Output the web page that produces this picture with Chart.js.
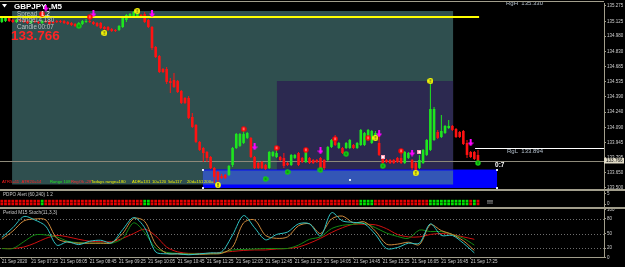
<!DOCTYPE html>
<html><head><meta charset="utf-8">
<script src="https://cdn.jsdelivr.net/npm/chart.js@4.4.1/dist/chart.umd.min.js"></script>
<style>
html,body{margin:0;padding:0;background:#000;width:625px;height:267px;overflow:hidden}
canvas{position:absolute;left:0;display:block}
#c1{top:0}#c2{top:190px}#c3{top:207px}
</style></head><body>
<canvas id="c1" width="625" height="190"></canvas>
<canvas id="c2" width="625" height="17"></canvas>
<canvas id="c3" width="625" height="60"></canvas>
<script>
// ---------- DATA (GBPJPY M5, 21 Sep 2020, bars from 06:45) ----------
const opens = [135.119,135.128,135.158,135.138,135.119,135.138,135.128,135.128,135.109,135.128,
135.119,135.109,135.128,135.128,135.119,135.128,135.128,135.128,135.119,135.109,
135.099,135.070,135.099,135.119,135.128,135.119,135.109,135.109,135.070,135.070,
135.050,135.041,135.041,135.070,135.138,135.167,135.177,135.167,135.187,135.197,
135.138,135.070,134.875,134.787,134.660,134.660,134.543,134.553,134.543,134.446,
134.378,134.378,134.192,134.114,133.949,133.890,133.851,133.802,133.695,133.656,
133.617,133.627,133.627,133.724,133.890,133.910,133.939,133.988,133.988,133.802,
133.744,133.754,133.724,133.695,133.812,133.802,133.802,133.793,133.744,133.724,
133.793,133.841,133.793,133.754,133.793,133.773,133.773,133.793,133.773,133.773,
133.900,133.997,133.890,133.890,133.890,133.890,133.919,133.890,133.919,133.919,
133.968,133.939,133.968,133.939,133.793,133.773,133.773,133.773,133.793,133.793,
133.744,133.793,133.773,133.744,133.695,133.744,133.822,133.871,133.968,134.046,
133.997,134.036,134.085,134.105,134.075,134.046,134.056,133.939,133.851,133.851,133.822];
const highs = [135.167,135.167,135.167,135.148,135.148,135.148,135.138,135.138,135.138,135.138,
135.128,135.138,135.138,135.138,135.128,135.138,135.138,135.138,135.128,135.119,
135.109,135.119,135.138,135.148,135.167,135.128,135.119,135.119,135.080,135.080,
135.060,135.050,135.089,135.177,135.197,135.206,135.226,135.226,135.197,135.216,
135.148,135.080,134.885,134.797,134.670,134.680,134.573,134.621,134.553,134.456,
134.387,134.397,134.231,134.124,133.958,133.900,133.861,133.812,133.705,133.666,
133.637,133.637,133.724,133.900,134.036,134.036,134.075,134.046,133.997,133.812,
133.754,133.763,133.734,133.861,133.861,133.871,133.812,133.841,133.754,133.832,
133.832,133.851,133.802,133.880,133.802,133.783,133.783,133.802,133.783,133.910,
133.978,134.017,133.949,133.900,133.949,133.978,133.929,133.949,134.075,134.046,
134.075,134.066,134.056,134.027,133.812,133.783,133.783,133.783,133.802,133.841,
133.861,133.851,133.783,133.754,133.822,133.880,133.978,134.524,134.290,134.066,
134.212,134.114,134.163,134.114,134.085,134.056,134.066,133.968,133.861,133.861,133.871];
const lows = [135.109,135.119,135.119,135.109,135.109,135.119,135.109,135.099,135.099,135.109,
135.099,135.099,135.109,135.089,135.099,135.109,135.109,135.099,135.089,135.080,
135.070,135.060,135.089,135.109,135.109,135.089,135.070,135.050,135.041,135.031,
135.021,135.021,135.031,135.060,135.119,135.158,135.167,135.158,135.158,135.109,
135.060,134.846,134.768,134.621,134.621,134.514,134.426,134.475,134.426,134.319,
134.319,134.173,134.085,133.939,133.861,133.754,133.754,133.685,133.549,133.559,
133.588,133.588,133.617,133.705,133.880,133.900,133.929,133.978,133.793,133.685,
133.685,133.685,133.676,133.685,133.802,133.793,133.763,133.695,133.715,133.715,
133.783,133.715,133.744,133.744,133.734,133.734,133.744,133.656,133.676,133.763,
133.890,133.910,133.880,133.832,133.880,133.880,133.880,133.880,133.910,133.910,
133.958,133.929,133.958,133.812,133.734,133.744,133.734,133.734,133.744,133.734,
133.734,133.783,133.676,133.656,133.685,133.734,133.812,133.861,133.958,133.978,
133.988,134.027,134.075,134.056,133.988,133.988,133.919,133.793,133.793,133.773,133.744];
const closes = [135.158,135.158,135.128,135.119,135.138,135.128,135.119,135.109,135.128,135.119,
135.109,135.128,135.119,135.099,135.109,135.119,135.119,135.109,135.099,135.089,
135.080,135.109,135.128,135.128,135.119,135.099,135.080,135.060,135.050,135.041,
135.031,135.031,135.080,135.158,135.187,135.197,135.216,135.197,135.167,135.119,
135.070,134.865,134.777,134.631,134.631,134.534,134.524,134.485,134.436,134.329,
134.329,134.183,134.095,133.949,133.871,133.841,133.793,133.695,133.607,133.578,
133.598,133.598,133.715,133.890,134.027,134.027,134.027,134.036,133.802,133.695,
133.695,133.695,133.685,133.851,133.851,133.841,133.773,133.715,133.724,133.822,
133.822,133.724,133.754,133.851,133.744,133.744,133.754,133.695,133.695,133.900,
133.968,133.919,133.939,133.841,133.939,133.968,133.890,133.939,134.066,134.036,
134.066,134.056,134.036,133.822,133.744,133.754,133.744,133.744,133.754,133.744,
133.851,133.841,133.695,133.676,133.773,133.871,133.968,134.270,134.270,133.988,
134.056,134.105,134.105,134.066,133.997,133.997,133.929,133.822,133.802,133.783,133.766];

// time-axis labels, one every 8 bars (bar 0 = 06:45)
const timeLabels = ["21 Sep 2020","21 Sep 07:25","21 Sep 08:05","21 Sep 08:45","21 Sep 09:25",
"21 Sep 10:05","21 Sep 10:45","21 Sep 11:25","21 Sep 12:05","21 Sep 12:45","21 Sep 13:25",
"21 Sep 14:05","21 Sep 14:45","21 Sep 15:25","21 Sep 16:05","21 Sep 16:45","21 Sep 17:25"];
const priceTicks = [135.275,135.125,134.980,134.830,134.685,134.535,134.390,134.240,134.090,133.945,133.795,133.650,133.500];

// signal markers: [bar, price]
const signalYellow = [[28,135.011],[37,135.226],[59,133.529],[102,133.988],[113,133.646],[117,134.543]];
const signalRed = [[11,135.197],[24,135.167],[66,134.075],[75,133.890],[83,133.871],[91,133.978],[100,133.988],[109,133.861]];
const signalGreen = [[21,135.080],[72,133.588],[78,133.656],[87,133.676],[94,133.832],[104,133.715],[130,133.744]];
const signalArrow = [[12,135.255],[25,135.197],[41,135.197],[69,133.900],[87,133.861],[103,134.027],[112,133.841],[128,133.939]];
const signalPink = [[104,133.802],[114,133.851]];

// chart objects (bar index / price)
const zoneTeal = {from:2.8, to:123.2, top:135.226, bottom:133.534};
const zonePurple = {from:75.1, to:123.2, top:134.543, bottom:133.534};
const zoneBlue = {from:54.9, to:135.2, top:133.680, bottom:133.500};
const levelYellow = {price:135.167, to:130.3};
const rangeHigh = 135.330, rangeLow = 133.894, rangeLowFrom = 129.2;

// PDPO alert (1 = green)
const pdpoSignal = [0,0,0,0,0,0,0,0,0,0, 0,1,0,0,0,0,0,0,0,0, 0,0,0,0,0,0,0,0,0,0, 0,0,0,0,0,0,0,0,0,1,
1,0,0,0,0,0,0,0,0,0, 0,0,0,0,0,0,0,0,0,0, 0,0,0,0,0,0,0,0,0,0, 0,0,0,0,0,0,0,0,0,0,
0,0,0,0,0,0,0,0,0,0, 0,0,0,0,0,0,0,0,1,1, 1,1,0,0,0,0,0,0,0,0, 0,0,0,0,0,0,0,1,1,1,
1,1,1,1,1,1,1,1,0,1, 0];

// M15 stochastic, sampled every 3 M5 bars
const stochBars = [0,3,6,9,12,15,18,21,24,27,30,33,36,39,42,45,48,51,54,57,60,63,66,69,72,75,78,81,84,87,90,93,96,99,102,105,108,111,114,117,120,123,126,129];
const stochCyan = [42,62,85,78,65,26,33,27,34,36,31,58,83,62,12,8,8,6,8,10,12,47,87,62,37,48,53,70,70,45,93,76,73,70,48,19,21,30,30,70,46,46,30,10];
const stochOrange = [38,55,76,80,78,40,32,30,30,30,31,50,81,75,28,9,8,7,7,8,9,22,72,78,46,40,43,66,70,50,80,86,72,74,55,28,28,32,27,68,56,48,35,15];
const stochGreen = [19,19,33,47,47,43,34,31,30,30,30,40,72,52,20,11,9,8,8,8,10,16,17,18,19,19,19,26,38,43,60,67,69,71,62,51,44,40,57,54,54,48,40,26];
const stochRed = [19,19,22,30,40,46,43,38,34,33,33,40,50,59,45,22,12,9,9,9,11,13,15,16,16,18,19,22,30,40,52,62,69,69,68,60,48,43,43,48,50,48,43,38];
const stochLevels = [80,50,20];

// ---------- RENDERING ----------
const FONT = '"Liberation Sans", Arial, sans-serif';
const X_MIN = -0.5, X_MAX = 164.4;
const AXIS_W = 21;
const LINE_C = '#a29e8c';
const TXT_C = '#cfcfcf';
const UP = '#1ee61e', DN = '#ff1212';
const bars = opens.map((_, i) => i);
const candleCol = bars.map(i => closes[i] >= opens[i] ? UP : DN);

function txt(ctx, s, x, y, col, size, bold, align) {
  ctx.font = (bold ? 'bold ' : '') + size + 'px ' + FONT;
  ctx.fillStyle = col; ctx.textAlign = align || 'left'; ctx.textBaseline = 'middle';
  ctx.fillText(s, x, y);
}
function mk(w, h, draw) { const c = document.createElement('canvas'); c.width = w; c.height = h; draw(c.getContext('2d')); return c; }
const imgYellow = mk(6, 6, g => { g.fillStyle = '#ffff00'; g.beginPath(); g.arc(3, 3, 2.9, 0, 7); g.fill(); g.fillStyle = '#333'; g.fillRect(2.5, 1, 1, 2.6); g.fillRect(2.5, 4.2, 1, 0.9); });
const imgRed = mk(6, 6, g => { g.fillStyle = '#ff0000'; g.beginPath(); g.arc(3, 3, 2.7, 0, 7); g.fill(); g.fillStyle = '#ffc8c8'; g.fillRect(2.5, 1.5, 1, 2.8); });
const imgGreen = mk(6, 6, g => { g.fillStyle = '#12d012'; g.beginPath(); g.arc(3, 3, 2.7, 0, 7); g.fill(); g.fillStyle = '#0a6a0a'; g.fillRect(2.5, 1.6, 1, 2.6); });
const imgArrow = mk(6, 7, g => { g.fillStyle = '#ff00ff'; g.fillRect(2, 0, 2, 3); g.beginPath(); g.moveTo(0, 3); g.lineTo(6, 3); g.lineTo(3, 7); g.closePath(); g.fill(); });
const imgPink = mk(4, 4, g => { g.fillStyle = '#ff9fb8'; g.fillRect(0, 0, 4, 4); g.fillStyle = '#ffffff'; g.fillRect(1, 1, 2, 2); });

const yAfterFit = s => { s.width = AXIS_W; s.paddingTop = 0; s.paddingBottom = 0; };
const baseOpts = { responsive: false, animation: false, events: [],
  plugins: { legend: { display: false }, tooltip: { enabled: false } } };
const hiddenX = { type: 'linear', min: X_MIN, max: X_MAX, display: false, offset: false };
const rightY = (min, max, ticks) => ({
  position: 'right', min, max, stacked: false, beginAtZero: false,
  afterFit: yAfterFit,
  afterBuildTicks: s => { s.ticks = ticks.map(v => ({ value: v })); },
  ticks: { font: { size: 4.5, family: FONT }, color: TXT_C, padding: 1, autoSkip: false,
           callback: v => (ticks === priceTicks ? v.toFixed(3) : String(v)) },
  grid: { drawOnChartArea: false, drawTicks: true, tickLength: 2, color: LINE_C },
  border: { display: true, color: LINE_C }
});
const markerSet = (arr, img) => ({ type: 'line', data: arr.map(([i, p]) => ({ x: i, y: p })), showLine: false,
  pointStyle: img, pointRadius: 3, order: 1, clip: false });

// ----- main price chart -----
const mainPlugin = {
  id: 'mainOverlay',
  beforeDatasetsDraw(chart) {
    const { ctx, chartArea: a, scales: { x, y } } = chart;
    ctx.save();
    ctx.beginPath(); ctx.rect(a.left, a.top, a.right - a.left, a.bottom - a.top); ctx.clip();
    const R = (z, col, top, bottom) => {
      const X0 = x.getPixelForValue(z.from), X1 = x.getPixelForValue(z.to);
      const Y0 = y.getPixelForValue(top ?? z.top), Y1 = y.getPixelForValue(bottom ?? z.bottom);
      ctx.fillStyle = col; ctx.fillRect(X0, Y0, X1 - X0, Y1 - Y0);
    };
    R(zoneTeal, '#2f4f4f');
    R(zonePurple, '#2c2950');
    R(zoneBlue, '#0000ff');
    R({ from: zoneBlue.from, to: zoneTeal.to }, '#3356b6', 133.671, zoneTeal.bottom);
    // bid line
    const yb = Math.round(y.getPixelForValue(closes[closes.length - 1])) + 0.5;
    ctx.strokeStyle = '#8e8a7a'; ctx.lineWidth = 1;
    ctx.beginPath(); ctx.moveTo(a.left, yb); ctx.lineTo(a.right, yb); ctx.stroke();
    // range-low line
    const yl = Math.round(y.getPixelForValue(rangeLow)) + 0.5;
    ctx.strokeStyle = '#ffffff';
    ctx.beginPath(); ctx.moveTo(x.getPixelForValue(rangeLowFrom), yl); ctx.lineTo(a.right, yl); ctx.stroke();
    ctx.restore();
  },
  afterDatasetDraw(chart, args) {
    if (args.index !== 1) return;
    const { ctx, chartArea: a, scales: { x, y } } = chart;
    const yy = y.getPixelForValue(levelYellow.price);
    ctx.save(); ctx.fillStyle = '#ffff00';
    ctx.fillRect(a.left, Math.round(yy) - 1, x.getPixelForValue(levelYellow.to) - a.left, 2);
    ctx.restore();
  },
  afterDatasetsDraw(chart) {
    const { ctx, scales: { x, y } } = chart;
    ctx.save();
    // header
    ctx.fillStyle = '#ffffff'; ctx.beginPath(); ctx.moveTo(2, 4); ctx.lineTo(7, 4); ctx.lineTo(4.5, 7.5); ctx.closePath(); ctx.fill();
    txt(ctx, 'GBPJPY ,M5', 14, 6.5, '#ffffff', 8, true);
    txt(ctx, 'Spread', 17, 14, '#b9c2c2', 6.3);
    txt(ctx, '1.2', 41, 14, '#ffffff', 6.3);
    txt(ctx, 'Range', 17, 20.5, '#b9c2c2', 6.3);
    txt(ctx, '14.180', 35, 20.5, '#b9c2c2', 6.3);
    txt(ctx, 'Candle', 17, 27, '#b9c2c2', 6.3);
    txt(ctx, '00:07', 38, 27, '#b9c2c2', 6.3);
    txt(ctx, '133.766', 11, 36.5, '#ff2424', 13.5, true);
    // range labels
    txt(ctx, 'RgH  ' + rangeHigh.toFixed(3), 506, 3.8, '#b4c0cc', 6);
    txt(ctx, 'RgL  ' + rangeLow.toFixed(3), 507, 151.8, '#b4c0cc', 6);
    // stats row
    const ry = 182.3, fs = 4.2;
    txt(ctx, 'ATR5=11  ATR20=14', 2, ry, '#ff2020', fs);
    txt(ctx, 'Range 108', 50, ry, '#22e022', fs);
    txt(ctx, 'RngOk -28', 71, ry, '#ff3030', fs);
    txt(ctx, 'Todays range=180', 91, ry, '#f0f000', fs);
    txt(ctx, 'ADR=131', 132, ry, '#f0f000', fs);
    txt(ctx, '10=120', 152, ry, '#f0f000', fs);
    txt(ctx, '5d=117', 168, ry, '#f0f000', fs);
    txt(ctx, '20d=151', 187, ry, '#f0f000', fs);
    txt(ctx, '200=', 204, ry, '#f0f000', fs);
    // rectangle handles and label
    const hx = [zoneBlue.from, zoneBlue.to], hy = [zoneBlue.top, zoneBlue.bottom];
    ctx.fillStyle = '#dfe8ff';
    hx.forEach(i => hy.forEach(p => ctx.fillRect(Math.round(x.getPixelForValue(i)) - 1, Math.round(y.getPixelForValue(p)) - 1, 2, 2)));
    ctx.fillRect(Math.round(x.getPixelForValue(95)) - 1, Math.round(y.getPixelForValue(133.578)) - 1, 2, 2);
    txt(ctx, '0:7', x.getPixelForValue(zoneBlue.to) - 2, y.getPixelForValue(zoneBlue.top) - 4, '#ffffff', 6.5, true);
    ctx.restore();
  },
  afterDraw(chart) {
    const { ctx, chartArea: a, scales: { y } } = chart;
    ctx.save();
    ctx.fillStyle = LINE_C;
    ctx.fillRect(0, 1, a.right, 1);
    ctx.fillRect(0, 189, 625, 1);
    const yb = y.getPixelForValue(closes[closes.length - 1]);
    ctx.fillStyle = '#e2dcc8'; ctx.fillRect(a.right, yb - 2.8, 20, 5.6);
    txt(ctx, closes[closes.length - 1].toFixed(3), a.right + 2, yb + 0.2, '#000000', 4.6);
    ctx.restore();
  }
};
new Chart(document.getElementById('c1'), {
  type: 'bar',
  data: { datasets: [
    { label: 'wick', data: bars.map(i => ({ x: i, y: [lows[i], highs[i]] })), backgroundColor: candleCol,
      barThickness: 1, stack: 'c', order: 5, inflateAmount: 0 },
    { label: 'body', data: bars.map(i => ({ x: i, y: [opens[i], closes[i]] })), backgroundColor: candleCol,
      barThickness: 2.6, minBarLength: 1, stack: 'c', order: 4, inflateAmount: 0 },
    markerSet(signalYellow, imgYellow),
    markerSet(signalRed, imgRed),
    markerSet(signalGreen, imgGreen),
    markerSet(signalArrow, imgArrow),
    markerSet(signalPink, imgPink)
  ] },
  options: { ...baseOpts, layout: { autoPadding: false, padding: { top: 3, bottom: 1, left: 0, right: 0 } },
    scales: { x: hiddenX, y: rightY(133.490, 135.304, priceTicks) } },
  plugins: [mainPlugin]
});

// ----- PDPO alert panel -----
const pdpoCol = bars.map(i => pdpoSignal[i] ? '#00e000' : '#e80000');
new Chart(document.getElementById('c2'), {
  type: 'bar',
  data: { datasets: [
    { data: bars.map(i => ({ x: i, y: [0.75, 2.0] })), backgroundColor: pdpoCol, barThickness: 2.8, stack: 'p', inflateAmount: 0 },
    { data: bars.map(i => ({ x: i, y: [-0.6, 0.65] })), backgroundColor: pdpoCol, barThickness: 2.8, stack: 'p', inflateAmount: 0 }
  ] },
  options: { ...baseOpts, layout: { autoPadding: false, padding: { top: 1, bottom: 1, left: 0, right: 0 } },
    scales: { x: hiddenX, y: rightY(-0.95, 6.19, [0, 5]) } },
  plugins: [{ id: 'pdpoText', afterDraw(chart) {
    const { ctx } = chart;
    txt(ctx, 'PDPO Alert (60,240) 1 2', 3, 4.6, '#c8c8c8', 4.6);
    txt(ctx, '!!!', 487, 12, '#c8c8c8', 6, true);
    ctx.fillStyle = LINE_C; ctx.fillRect(0, 0, 625, 1);
  } }]
});

// ----- M15 stochastic panel -----
const sLine = (arr, col) => ({ data: stochBars.map((b, k) => ({ x: b, y: arr[k] })), borderColor: col, borderWidth: 1,
  pointRadius: 0, tension: 0.3, fill: false });
new Chart(document.getElementById('c3'), {
  type: 'line',
  data: { datasets: [
    sLine(stochCyan, '#2fc4c4'),
    sLine(stochOrange, '#d08a3c'),
    sLine(stochGreen, '#138a13'),
    sLine(stochRed, '#d01010')
  ] },
  options: { ...baseOpts, layout: { autoPadding: false, padding: { top: 2.3, bottom: 0, left: 0, right: 0 } },
    scales: {
      x: { type: 'linear', min: X_MIN, max: X_MAX, offset: false,
        afterFit: s => { s.height = 9.3; s.paddingLeft = 0; s.paddingRight = 0; },
        afterBuildTicks: s => { s.ticks = timeLabels.map((_, k) => ({ value: k * 8 })); },
        ticks: { font: { size: 4.5, family: FONT }, color: TXT_C, padding: 0.5, align: 'start',
          maxRotation: 0, minRotation: 0, autoSkip: false, callback: (v, k) => timeLabels[k] },
        grid: { drawOnChartArea: false, drawTicks: true, tickLength: 1, color: LINE_C },
        border: { display: true, color: LINE_C } },
      y: rightY(0, 100, [0, 20, 50, 80, 100])
    } },
  plugins: [{ id: 'stochDeco',
    beforeDatasetsDraw(chart) {
      const { ctx, chartArea: a, scales: { y } } = chart;
      ctx.save(); ctx.strokeStyle = '#6e6e6e'; ctx.lineWidth = 1; ctx.setLineDash([1, 2]);
      stochLevels.forEach(v => { const yy = Math.round(y.getPixelForValue(v)) + 0.5;
        ctx.beginPath(); ctx.moveTo(a.left, yy); ctx.lineTo(a.right, yy); ctx.stroke(); });
      ctx.restore();
    },
    afterDraw(chart) {
      const { ctx } = chart;
      ctx.save(); ctx.fillStyle = LINE_C; ctx.fillRect(0, 0, 625, 2); ctx.restore();
      txt(ctx, 'Period M15 Stoch(11,3,3)', 3, 6, '#c8c8c8', 4.8);
    } }]
});
</script>
</body></html>
